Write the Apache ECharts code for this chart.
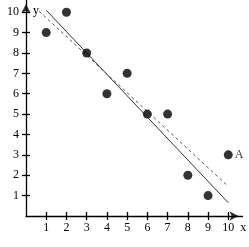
<!DOCTYPE html>
<html><head><meta charset="utf-8">
<script src="https://cdn.jsdelivr.net/npm/echarts@6/dist/echarts.min.js"></script>
<style>html,body{margin:0;padding:0;background:#fff}#c{width:249px;height:247px}</style>
</head><body><div id="c"></div>
<script>
const xs = [1,2,3,4,5,6,7,8,9,10];
const ys = [9,10,8,6,7,5,5,2,1,3];
const solidLine = [[1,10.1],[10,0.65]];
const dashedLine = [[0.65,10.05],[10,1.45]];
const tickValues = [1,2,3,4,5,6,7,8,9,10];
const pointLabel = 'A';
const axisEnds = [[10.5,0,-90],[0,10.4,0]];

const font = 'Liberation Serif';
const pts = xs.map((x,i)=>{
  const d = {value:[x,ys[i]]};
  if (i === xs.length-1) d.label = {show:true, formatter:pointLabel, position:'right', distance:2, color:'#000', fontFamily:font, fontSize:12};
  return d;
});
function axisBase(extra){
  return Object.assign({
    type:'value', min:0, interval:1, splitLine:{show:false},
  }, extra);
}
const chart = echarts.init(document.getElementById('c'));
chart.setOption({
  animation:false,
  grid:{left:26, top:0, right:3.6, bottom:31, containLabel:false},
  xAxis:[
    axisBase({max:10.7,
      axisLine:{lineStyle:{color:'#000',width:1.3}},
      axisTick:{show:true, inside:false, length:4, customValues:tickValues, lineStyle:{color:'#000',width:1.3}},
      axisLabel:{customValues:tickValues, margin:6, color:'#000', fontFamily:font, fontSize:12},
      name:'x', nameLocation:'end', nameGap:-1.5,
      nameTextStyle:{color:'#000', fontFamily:font, fontSize:12, align:'center', verticalAlign:'top', padding:[6,0,0,0]}
    }),
    axisBase({max:10.7, position:'bottom',
      axisLine:{show:false},
      axisTick:{show:true, inside:true, length:4, customValues:tickValues, lineStyle:{color:'#000',width:1.3}},
      axisLabel:{show:false}
    })
  ],
  yAxis:[
    axisBase({max:10.6,
      axisLine:{lineStyle:{color:'#000',width:1.3}},
      axisTick:{show:true, inside:false, length:4, customValues:tickValues, lineStyle:{color:'#000',width:1.3}},
      axisLabel:{customValues:tickValues, margin:7, color:'#000', fontFamily:font, fontSize:12},
      name:'y', nameLocation:'end', nameGap:-11,
      nameTextStyle:{color:'#000', fontFamily:font, fontSize:12, align:'left', verticalAlign:'middle', padding:[0,0,0,7]}
    }),
    axisBase({max:10.6, position:'left',
      axisLine:{show:false},
      axisTick:{show:true, inside:true, length:4, customValues:tickValues, lineStyle:{color:'#000',width:1.3}},
      axisLabel:{show:false}
    })
  ],
  series:[
    {type:'line', data:solidLine, symbol:'none', lineStyle:{color:'#333', width:1}, z:2},
    {type:'line', data:dashedLine, symbol:'none', lineStyle:{color:'#555', width:1, type:[3,3]}, z:2},
    {type:'scatter', data:pts, symbolSize:9, itemStyle:{color:'#000'}, z:3},
    {type:'scatter', clip:false, silent:true, z:4, symbol:'arrow', symbolSize:[7,9],
      itemStyle:{color:'#000'},
      data:axisEnds.map(a=>({value:[a[0],a[1]], symbolRotate:a[2]}))}
  ]
});
</script></body></html>
